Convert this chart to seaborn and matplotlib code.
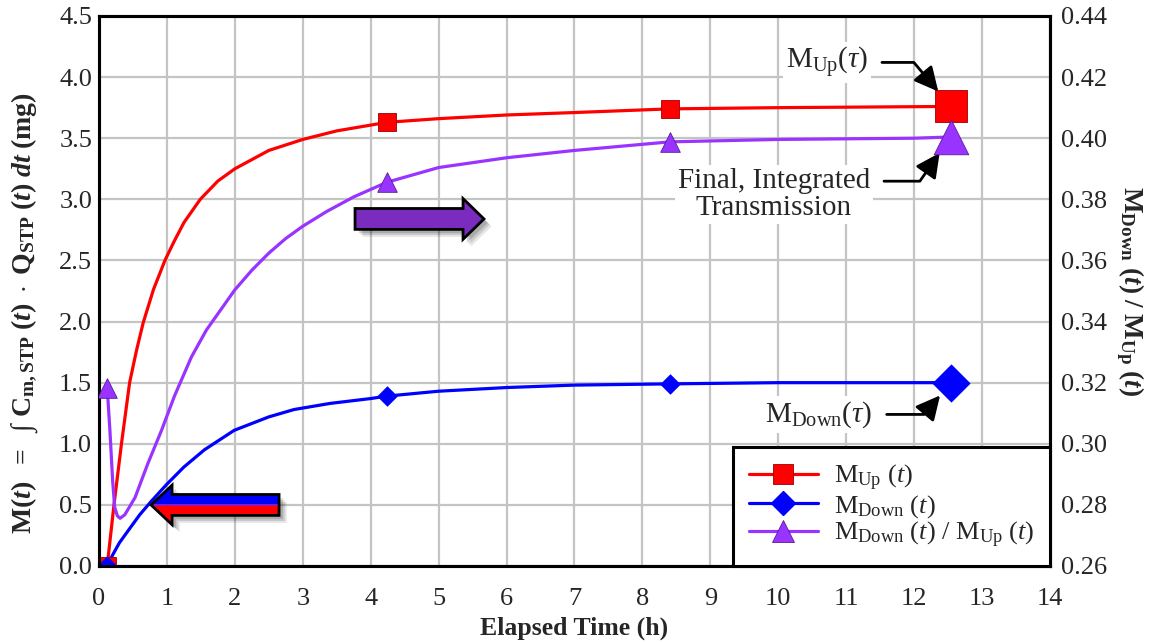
import numpy as np
import pandas as pd
import seaborn as sns
import matplotlib.pyplot as plt
from matplotlib.patches import Polygon
from matplotlib.lines import Line2D

# marker times / values (h, mg)
t_marks = [0.12, 4.24, 8.40, 12.54]
up_marks = [0.0, 3.63, 3.74, 3.76]
down_marks = [0.0, 1.39, 1.49, 1.50]
ratio_marks = [0.3184, 0.3856, 0.3988, 0.4004]

# smooth curves
t_up = [0.12, 0.22, 0.33, 0.45, 0.55, 0.65, 0.80, 0.97, 1.1, 1.25, 1.49, 1.75,
        2.0, 2.5, 3.0, 3.5, 4.24, 5, 6, 7, 8.40, 10, 12.54]
m_up = [0.0, 0.5, 1.0, 1.5, 1.76, 1.99, 2.26, 2.5, 2.65, 2.81, 3.0, 3.15,
        3.25, 3.40, 3.49, 3.56, 3.63, 3.66, 3.69, 3.71, 3.74, 3.75, 3.76]

t_down = [0.12, 0.2, 0.3, 0.43, 0.6, 0.77, 1.0, 1.25, 1.55, 1.99, 2.5, 2.87,
          3.4, 4.0, 4.24, 5, 6, 7, 8.40, 10, 12.54]
m_down = [0.0, 0.09, 0.19, 0.29, 0.42, 0.53, 0.67, 0.81, 0.95, 1.11, 1.22, 1.28,
          1.33, 1.37, 1.39, 1.43, 1.46, 1.48, 1.49, 1.50, 1.50]

t_ratio = [0.12, 0.16, 0.20, 0.23, 0.27, 0.31, 0.38, 0.53, 0.72, 0.92, 1.11, 1.36,
           1.58, 2.0, 2.25, 2.5, 2.75, 3.0, 3.35, 3.75, 4.24, 5, 6, 7, 8, 8.40,
           10, 12, 12.54]
ratio = [0.3184, 0.3044, 0.288, 0.2792, 0.2764, 0.2756, 0.2768, 0.2824, 0.2936,
         0.3044, 0.3156, 0.3284, 0.3372, 0.3504, 0.3568, 0.3624, 0.3672, 0.3712,
         0.376, 0.3808, 0.3856, 0.3904, 0.3936, 0.396, 0.398, 0.3988, 0.3996,
         0.40, 0.4004]

RED = "#ff0000"
BLUE = "#0000ff"
PURPLE = "#9933ff"
FS = 19

sns.set_style("white")
plt.rcParams["font.family"] = ["Liberation Serif", "DejaVu Serif"]
plt.rcParams["mathtext.fontset"] = "custom"
plt.rcParams["mathtext.rm"] = "Liberation Serif"
plt.rcParams["mathtext.it"] = "Liberation Serif:italic"
plt.rcParams["mathtext.bf"] = "Liberation Serif:bold"
plt.rcParams["mathtext.bfit"] = "Liberation Serif:bold:italic"

fig = plt.figure(figsize=(11.49, 6.42), dpi=100)
ax = fig.add_axes([0.0862, 0.1184, 0.8276, 0.8567])
ax2 = ax.twinx()

# curves
sns.lineplot(x=t_up, y=m_up, ax=ax, color=RED, lw=2.3, zorder=3)
sns.lineplot(x=t_down, y=m_down, ax=ax, color=BLUE, lw=2.3, zorder=3)
sns.lineplot(x=t_ratio, y=ratio, ax=ax2, color=PURPLE, lw=2.3, zorder=3)

# markers (last one is the final value, drawn larger)
sns.scatterplot(x=t_marks[:-1], y=up_marks[:-1], ax=ax, marker="s", s=150,
                color=RED, edgecolor="#990000", linewidth=0.6, zorder=4)
sns.scatterplot(x=t_marks[-1:], y=up_marks[-1:], ax=ax, marker="s", s=520,
                color=RED, edgecolor="#990000", linewidth=0.6, zorder=4)
sns.scatterplot(x=t_marks[:-1], y=down_marks[:-1], ax=ax, marker="D", s=110,
                color=BLUE, edgecolor=BLUE, linewidth=0, zorder=4)
sns.scatterplot(x=t_marks[-1:], y=down_marks[-1:], ax=ax, marker="D", s=380,
                color=BLUE, edgecolor=BLUE, linewidth=0, zorder=4)
sns.scatterplot(x=t_marks[:-1], y=ratio_marks[:-1], ax=ax2, marker="^", s=200,
                color=PURPLE, edgecolor="#5a1a99", linewidth=0.6, zorder=4)
sns.scatterplot(x=t_marks[-1:], y=ratio_marks[-1:], ax=ax2, marker="^", s=620,
                color=PURPLE, edgecolor="#5a1a99", linewidth=0.6, zorder=4)

# axes
ax.set_xlim(0, 14)
ax.set_ylim(0, 4.5)
ax2.set_ylim(0.26, 0.44)
ax.set_xticks(range(0, 15))
ax.set_yticks(np.arange(0, 4.51, 0.5))
ax.set_yticklabels([f"{v:.1f}" for v in np.arange(0, 4.51, 0.5)])
ax2.set_yticks(np.arange(0.26, 0.4401, 0.02))
ax2.set_yticklabels([f"{v:.2f}" for v in np.arange(0.26, 0.4401, 0.02)])
ax.grid(True, color="#c4c4c4", lw=1.6)
ax.set_axisbelow(True)
ax.tick_params(axis="x", length=0, labelsize=FS, pad=16)
ax.tick_params(axis="y", length=0, labelsize=FS, pad=5)
ax2.tick_params(axis="y", length=0, labelsize=FS, pad=8)
for a in (ax, ax2):
    for s in a.spines.values():
        s.set_color("black")
        s.set_linewidth(2.2)

ax.set_xlabel("Elapsed Time (h)", fontsize=18.5, fontweight="bold", va="center")
ax.xaxis.set_label_coords(0.5, -0.113)
ax.set_ylabel(r"$\mathbf{M(}\mathbfit{t}\mathbf{)\ \ =\ \ ∫\ C_{m,STP}\ (}\mathbfit{t}"
              r"\mathbf{)}\ \cdot\ \mathbf{Q_{STP}\ (}\mathbfit{t}\mathbf{)\ }"
              r"\mathbfit{dt}\mathbf{\ (mg)}$", fontsize=20, va="center")
ax.yaxis.set_label_coords(-0.078, 0.46)
ax2.set_ylabel(r"$\mathbf{M_{Down}\ (}\mathbfit{t}\mathbf{)\ /\ M_{Up}\ (}\mathbfit{t}\mathbf{)}$",
               fontsize=19.5, rotation=270, va="center")
ax2.yaxis.set_label_coords(1.084, 0.5)

# annotations for final values
box = dict(fc="white", ec="none", pad=2)
ap = dict(arrowstyle="-|>,head_length=0.7,head_width=0.35", color="black", lw=2,
          shrinkA=8)
ax.annotate(r"M$_{\mathrm{Up}}$($\tau$)", xy=(t_marks[-1], up_marks[-1]),
            xytext=(11.32, 4.12), ha="right", va="center", fontsize=21, bbox=box,
            arrowprops=dict(ap, shrinkB=14,
                            connectionstyle="angle,angleA=0,angleB=-50,rad=0"),
            zorder=6)
ax.annotate("Final, Integrated\nTransmission", xy=(t_marks[-1], 3.51),
            xytext=(11.35, 3.04), ha="right", va="center", multialignment="center",
            fontsize=21, linespacing=1.05, bbox=box,
            arrowprops=dict(ap, shrinkB=14, relpos=(1.0, 0.75),
                            connectionstyle="angle,angleA=0,angleB=55,rad=0"),
            zorder=6)
ax.annotate(r"M$_{\mathrm{Down}}$($\tau$)", xy=(t_marks[-1], down_marks[-1]),
            xytext=(11.39, 1.24), ha="right", va="center", fontsize=21, bbox=box,
            arrowprops=dict(ap, shrinkB=12,
                            connectionstyle="angle,angleA=0,angleB=50,rad=0"),
            zorder=6)


# block arrows (axes fraction)
def block_arrow(tail, base, tip, yc, hb, hh):
    return [(tail, yc - hb), (base, yc - hb), (base, yc - hh), (tip, yc),
            (base, yc + hh), (base, yc + hb), (tail, yc + hb)]


def draw_arrow(pts, face=None, grad=None):
    for k, a in enumerate([0.10, 0.12, 0.15]):
        d = 0.004 + 0.002 * (2 - k)
        sh = Polygon([(x + d, y - d * 1.7) for x, y in pts], closed=True,
                     transform=ax2.transAxes, fc="black", ec="none", alpha=a, zorder=5)
        ax2.add_patch(sh)
    poly = Polygon(pts, closed=True, transform=ax2.transAxes,
                   fc=face if face else "none", ec="black", lw=2, zorder=7)
    ax2.add_patch(poly)
    if grad is not None:
        xs = [p[0] for p in pts]
        ys = [p[1] for p in pts]
        im = ax2.imshow(grad, extent=(min(xs), max(xs), min(ys), max(ys)),
                        transform=ax2.transAxes, aspect="auto", zorder=6,
                        interpolation="bilinear")
        im.set_clip_path(poly)


grad = np.zeros((40, 1, 3))
grad[:19] = [0, 0, 1]
grad[21:] = [1, 0, 0]
grad[19:21] = [0.55, 0.1, 0.75]
draw_arrow(block_arrow(0.1893, 0.0768, 0.0547, 0.111, 0.019, 0.036), grad=grad)
draw_arrow(block_arrow(0.2692, 0.3828, 0.4048, 0.631, 0.019, 0.037), face="#7b2bbd")

ax.set_xlim(0, 14)
ax2.set_ylim(0.26, 0.44)

# legend
handles = [
    Line2D([], [], color=RED, lw=2.3, marker="s", ms=15, mec="#990000", mew=0.6),
    Line2D([], [], color=BLUE, lw=2.3, marker="D", ms=12, mec=BLUE),
    Line2D([], [], color=PURPLE, lw=2.3, marker="^", ms=16, mec="#5a1a99", mew=0.6),
]
labels = [r"M$_{\mathrm{Up}}$ ($\mathit{t}$)", r"M$_{\mathrm{Down}}$ ($\mathit{t}$)",
          r"M$_{\mathrm{Down}}$ ($\mathit{t}$) / M$_{\mathrm{Up}}$ ($\mathit{t}$)"]
leg = ax2.legend(handles, labels, loc="lower right", bbox_to_anchor=(1, 0),
                 borderaxespad=0, fontsize=19, handlelength=2.6, labelspacing=0.0,
                 handletextpad=0.6, borderpad=0.6, fancybox=False, framealpha=1,
                 edgecolor="black")
leg.get_frame().set_linewidth(2.2)
leg.set_zorder(10)

fig.savefig("out.png", dpi=100)
